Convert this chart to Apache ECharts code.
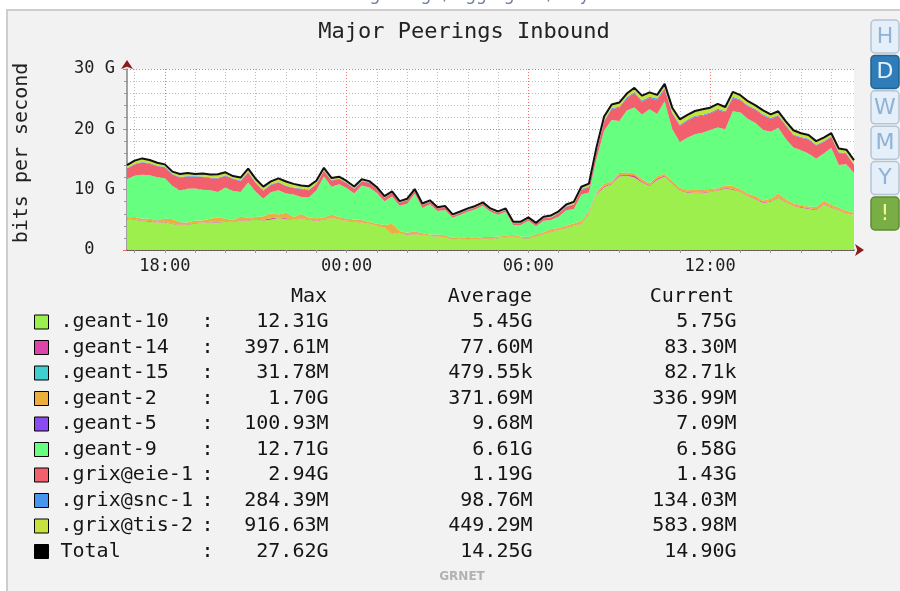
<!DOCTYPE html>
<html><head><meta charset="utf-8">
<script src="https://cdn.jsdelivr.net/npm/echarts@6/dist/echarts.min.js"></script>
<style>html,body{margin:0;padding:0;background:#fff;} #c{width:900px;height:591px;}</style>
</head><body><div id="c"></div>
<script>
// ---- data (values in Gbit/s) ----
const times = [
'16:45','17:00','17:15','17:30','17:45','18:00','18:15','18:30','18:45','19:00',
'19:15','19:30','19:45','20:00','20:15','20:30','20:45','21:00','21:15','21:30',
'21:45','22:00','22:15','22:30','22:45','23:00','23:15','23:30','23:45','00:00',
'00:15','00:30','00:45','01:00','01:15','01:30','01:45','02:00','02:15','02:30',
'02:45','03:00','03:15','03:30','03:45','04:00','04:15','04:30','04:45','05:00',
'05:15','05:30','05:45','06:00','06:15','06:30','06:45','07:00','07:15','07:30',
'07:45','08:00','08:15','08:30','08:45','09:00','09:15','09:30','09:45','10:00',
'10:15','10:30','10:45','11:00','11:15','11:30','11:45','12:00','12:15','12:30',
'12:45','13:00','13:15','13:30','13:45','14:00','14:15','14:30','14:45','15:00',
'15:15','15:30','15:45','16:00','16:15','16:30','16:45'];
const majorTimes = ['18:00','00:00','06:00','12:00'];

const geant10 = [
5.0,5.0,4.8,4.7,4.5,4.6,4.3,4.1,4.2,4.4,
4.5,4.6,4.5,4.7,4.6,4.9,4.8,5.1,4.9,5.0,
5.3,5.1,5.0,5.2,5.0,4.8,5.0,5.3,5.0,4.8,
4.7,4.5,4.3,4.0,3.7,2.6,2.8,2.5,2.6,2.4,
2.3,2.2,2.1,1.8,1.7,1.8,1.7,1.9,1.8,2.0,
2.1,2.2,2.0,1.9,2.2,2.6,3.0,3.3,3.6,4.0,
4.3,6.0,9.2,10.4,10.9,12.2,12.3,12.0,11.2,10.6,
11.6,12.2,11.0,9.8,9.5,9.4,9.4,9.6,9.8,10.2,
10.0,9.6,8.9,8.4,7.8,8.0,8.6,7.9,7.3,7.0,
6.8,6.6,7.6,7.0,6.6,6.0,5.75];
const geant14 = [
0.06,0.08,0.07,0.09,0.06,0.10,0.08,0.07,0.06,0.09,
0.07,0.08,0.12,0.06,0.07,0.09,0.08,0.06,0.10,0.25,
0.08,0.15,0.07,0.06,0.08,0.07,0.09,0.06,0.07,0.05,
0.05,0.06,0.05,0.04,0.05,0.06,0.04,0.05,0.04,0.05,
0.04,0.05,0.04,0.04,0.03,0.04,0.05,0.04,0.03,0.04,
0.04,0.03,0.04,0.05,0.04,0.05,0.06,0.05,0.07,0.08,
0.09,0.10,0.12,0.15,0.14,0.18,0.12,0.40,0.15,0.13,
0.22,0.14,0.12,0.10,0.11,0.09,0.12,0.10,0.11,0.12,
0.10,0.09,0.11,0.12,0.10,0.09,0.14,0.10,0.09,0.11,
0.10,0.12,0.09,0.10,0.08,0.09,0.083];
const geant15 = [
0,0,0,0.001,0,0,0,0,0,0,
0,0,0.001,0,0,0,0,0,0,0,
0,0,0,0,0,0.001,0,0,0,0,
0,0,0,0,0,0,0,0,0,0,
0.03,0,0,0,0,0,0,0,0,0,
0,0,0,0,0,0,0,0,0,0,
0,0,0,0.001,0,0,0,0,0.001,0,
0,0,0,0,0,0,0,0,0,0,
0,0,0,0,0,0,0,0,0,0,
0,0,0,0,0,0,0.0001];
const geant2 = [
0.3,0.4,0.3,0.4,0.3,0.5,0.7,0.4,0.3,0.4,
0.3,0.5,0.8,0.4,0.3,0.5,0.4,0.3,0.6,0.8,
0.5,0.9,0.4,0.7,0.3,0.4,0.3,0.5,0.4,0.3,
0.3,0.4,0.3,0.3,0.4,1.7,0.3,0.3,0.4,0.3,
0.2,0.3,0.3,0.2,0.2,0.3,0.2,0.2,0.3,0.2,
0.2,0.3,0.2,0.2,0.3,0.3,0.4,0.3,0.4,0.3,
0.4,0.3,0.3,0.4,0.3,0.3,0.4,0.3,0.4,0.3,
0.4,0.3,0.3,0.4,0.3,0.5,0.4,0.4,0.3,0.4,
0.5,0.4,0.3,0.4,0.3,0.4,0.6,0.4,0.3,0.4,
0.3,0.4,0.5,0.4,0.3,0.4,0.34];
const geant5 = [
0.01,0.01,0.02,0.01,0.01,0.01,0.02,0.01,0.01,0.01,
0.01,0.02,0.01,0.01,0.01,0.01,0.02,0.01,0.01,0.01,
0.01,0.01,0.01,0.02,0.01,0.01,0.01,0.01,0.01,0.01,
0.01,0.01,0.01,0.01,0.01,0.01,0.01,0.01,0.01,0.01,
0.01,0.01,0.01,0.01,0.01,0.01,0.01,0.01,0.01,0.01,
0.01,0.01,0.01,0.01,0.01,0.01,0.01,0.01,0.01,0.01,
0.01,0.01,0.01,0.02,0.01,0.10,0.01,0.01,0.02,0.01,
0.01,0.01,0.01,0.01,0.01,0.01,0.02,0.01,0.01,0.01,
0.01,0.01,0.01,0.01,0.01,0.02,0.01,0.01,0.01,0.01,
0.01,0.01,0.01,0.01,0.01,0.01,0.007];
const geant9 = [
6.4,6.8,7.3,7.2,7.2,6.7,5.5,5.3,5.6,5.3,
5.1,4.7,4.2,5.2,4.8,4.1,5.9,4.2,2.9,3.5,
4.0,3.2,3.7,2.8,3.3,4.6,6.8,4.6,5.4,5.1,
4.3,5.7,5.7,5.1,3.9,4.5,4.2,4.8,6.3,4.2,
5.0,3.9,4.2,3.3,3.9,4.2,4.8,5.2,4.2,3.6,
4.0,1.6,1.9,2.7,1.4,1.9,1.5,1.9,2.5,2.4,
4.4,3.1,5.5,8.8,10.2,8.6,10.3,10.9,10.7,12.3,
10.3,12.0,8.6,7.6,8.7,9.2,9.5,9.8,10.1,9.3,
12.4,12.7,12.4,12.1,11.7,11.1,10.9,10.0,9.3,9.0,
8.8,8.0,7.8,9.4,7.1,7.7,6.58];
const grixEie1 = [
1.7,1.9,2.0,1.9,1.8,1.8,1.9,2.1,2.0,1.9,
2.1,2.0,2.2,1.9,2.0,1.8,1.7,1.4,1.3,1.2,
1.3,1.2,1.1,1.3,1.2,1.0,0.9,1.0,0.9,0.8,
0.8,0.7,0.8,0.7,0.6,0.6,0.5,0.6,0.5,0.5,
0.4,0.4,0.4,0.3,0.3,0.3,0.3,0.3,0.3,0.3,
0.3,0.3,0.3,0.3,0.3,0.4,0.4,0.5,0.6,0.7,
0.8,0.9,1.2,1.5,1.8,2.2,2.0,2.4,2.1,1.9,
2.3,2.0,2.6,2.7,2.8,2.9,2.8,2.7,2.94,2.8,
2.2,2.0,2.1,2.2,2.4,2.1,2.0,2.2,2.0,2.1,
2.3,2.2,1.9,1.8,2.0,1.7,1.43];
const grixSnc1 = [
0.10,0.12,0.09,0.11,0.10,0.08,0.09,0.12,0.10,0.11,
0.09,0.10,0.12,0.11,0.08,0.10,0.09,0.11,0.10,0.12,
0.09,0.10,0.08,0.11,0.09,0.10,0.12,0.08,0.07,0.08,
0.06,0.07,0.06,0.05,0.06,0.05,0.05,0.04,0.05,0.04,
0.05,0.04,0.04,0.05,0.04,0.05,0.04,0.04,0.05,0.04,
0.05,0.04,0.05,0.04,0.05,0.06,0.05,0.06,0.07,0.08,
0.09,0.10,0.12,0.15,0.18,0.16,0.20,0.17,0.22,0.18,
0.28,0.19,0.16,0.15,0.17,0.14,0.16,0.18,0.15,0.17,
0.20,0.16,0.14,0.15,0.13,0.16,0.14,0.12,0.15,0.13,
0.14,0.12,0.13,0.15,0.12,0.13,0.134];
const grixTis2 = [
0.5,0.5,0.6,0.5,0.5,0.4,0.4,0.5,0.5,0.4,
0.5,0.5,0.6,0.5,0.4,0.5,0.5,0.6,0.6,0.5,
0.6,0.7,0.6,0.5,0.6,0.5,0.4,0.4,0.3,0.3,
0.3,0.3,0.2,0.2,0.2,0.2,0.2,0.2,0.2,0.2,
0.2,0.2,0.2,0.2,0.2,0.2,0.2,0.2,0.2,0.2,
0.2,0.2,0.2,0.2,0.2,0.2,0.3,0.3,0.3,0.4,
0.4,0.5,0.6,0.7,0.6,0.7,0.6,0.7,0.8,0.7,
0.6,0.7,0.8,0.9,0.8,0.8,0.92,0.8,0.8,0.7,
0.8,0.7,0.7,0.6,0.7,0.6,0.6,0.6,0.7,0.6,
0.6,0.6,0.6,0.5,0.6,0.6,0.58];

const seriesNames = ['.geant-10','.geant-14','.geant-15','.geant-2','.geant-5','.geant-9','.grix@eie-1','.grix@snc-1','.grix@tis-2'];
const seriesColors = ['#9cef4c','#dd44aa','#3fcfd0','#ecae3c','#8a4cf0','#66ff80','#f2606e','#4696f0','#c6e23e'];
const legendNames = seriesNames.concat(['Total']);
const statMax = ['12.31G','397.61M','31.78M','1.70G','100.93M','12.71G','2.94G','284.39M','916.63M','27.62G'];
const statAvg = ['5.45G','77.60M','479.55k','371.69M','9.68M','6.61G','1.19G','98.76M','449.29M','14.25G'];
const statCur = ['5.75G','83.30M','82.71k','336.99M','7.09M','6.58G','1.43G','134.03M','583.98M','14.90G'];
const buttonLabels = ['H','D','W','M','Y','!'];

// ---- chart ----
const mono = '"DejaVu Sans Mono", "Liberation Mono", monospace';
const seriesData = [geant10, geant14, geant15, geant2, geant5, geant9, grixEie1, grixSnc1, grixTis2];
const total = times.map((t, i) => seriesData.reduce((s, arr) => s + arr[i], 0));

const series = seriesNames.map((n, k) => ({
  name: n, type: 'line', stack: 'in', data: seriesData[k], color: seriesColors[k],
  symbol: 'none', showSymbol: false, silent: true,
  lineStyle: { width: 0 }, areaStyle: { color: seriesColors[k], opacity: 1 }, z: 2
}));
series.push({
  name: 'Total', type: 'line', data: total, color: '#000', symbol: 'none', showSymbol: false, silent: true,
  lineStyle: { width: 2, color: '#111' }, z: 3
});

const isHour = (i, v) => typeof v === 'string' && v.slice(3) === '00';
const isMajor = (i, v) => majorTimes.indexOf(v) >= 0;

const richBase = { fontFamily: mono, fontSize: 20, lineHeight: 20, color: '#151515' };
const graphics = [
  { type: 'rect', z: -10, silent: true, shape: { x: 7, y: 10, width: 900, height: 600 },
    style: { fill: '#f2f2f2', stroke: '#cdcdcd', lineWidth: 2 } },
  { type: 'text', z: 5, x: 447, y: 4, silent: true,
    style: { text: '© mon.grnet.gr / aggregate / day', fontFamily: '"DejaVu Sans", sans-serif', fontSize: 17,
      fill: '#6f7f9c', align: 'center', textAlign: 'center', verticalAlign: 'bottom', textVerticalAlign: 'bottom' } },
  { type: 'text', z: 5, x: 464, y: 32, silent: true,
    style: { text: 'Major Peerings Inbound', fontFamily: mono, fontSize: 22, fill: '#222',
      align: 'center', textAlign: 'center', verticalAlign: 'middle', textVerticalAlign: 'middle' } },
  { type: 'text', z: 5, x: 22, y: 153, rotation: Math.PI / 2, silent: true,
    style: { text: 'bits per second', fontFamily: mono, fontSize: 20, fill: '#222',
      align: 'center', textAlign: 'center', verticalAlign: 'middle', textVerticalAlign: 'middle' } },
  { type: 'text', z: 5, x: 327, y: 297, silent: true,
    style: { text: 'Max', fontFamily: mono, fontSize: 20, fill: '#151515', align: 'right', textAlign: 'right', verticalAlign: 'middle', textVerticalAlign: 'middle' } },
  { type: 'text', z: 5, x: 532, y: 297, silent: true,
    style: { text: 'Average', fontFamily: mono, fontSize: 20, fill: '#151515', align: 'right', textAlign: 'right', verticalAlign: 'middle', textVerticalAlign: 'middle' } },
  { type: 'text', z: 5, x: 734, y: 297, silent: true,
    style: { text: 'Current', fontFamily: mono, fontSize: 20, fill: '#151515', align: 'right', textAlign: 'right', verticalAlign: 'middle', textVerticalAlign: 'middle' } },
  { type: 'text', z: 5, x: 462, y: 577, silent: true,
    style: { text: 'GRNET', fontFamily: '"DejaVu Sans", sans-serif', fontSize: 12, fontWeight: 'bold', fill: '#b2b2b2',
      align: 'center', textAlign: 'center', verticalAlign: 'middle', textVerticalAlign: 'middle' } }
];
buttonLabels.forEach((b, i) => {
  const active = b === 'D', warn = b === '!';
  graphics.push({
    type: 'group', x: 871, y: 20 + i * 35.4, z: 6, silent: true,
    children: [
      { type: 'rect', shape: { x: 0, y: 0, width: 28, height: 33, r: 4 },
        style: { fill: active ? '#2f7db8' : (warn ? '#79ad45' : '#e5eff9'),
                 stroke: active ? '#22628f' : (warn ? '#5d8c32' : '#b4c4d4'), lineWidth: 1.5 } },
      { type: 'text', x: 14, y: 17,
        style: { text: b, fontFamily: '"DejaVu Sans", sans-serif', fontSize: 22,
                 fill: active ? '#e6f3ff' : (warn ? '#f8f890' : '#8fb2d6'),
                 align: 'center', textAlign: 'center', verticalAlign: 'middle', textVerticalAlign: 'middle' } }
    ]
  });
});

const option = {
  animation: false,
  backgroundColor: '#ffffff',
  grid: { left: 127, right: 46, top: 69, bottom: 341, show: true, backgroundColor: '#ffffff', borderWidth: 0, containLabel: false, outerBoundsMode: 'none' },
  xAxis: [
    { type: 'category', data: times, boundaryGap: false, position: 'bottom',
      axisLine: { show: true, lineStyle: { color: '#3a3a3a', width: 1.5 } },
      axisTick: { show: true, interval: isHour, length: 3, lineStyle: { color: '#999' } },
      axisLabel: { show: true, interval: isMajor, margin: 8, fontFamily: mono, fontSize: 17, color: '#1e1e1e' },
      splitLine: { show: true, interval: isHour, lineStyle: { color: '#bdbdbd', type: [1, 2], width: 1 } } },
    { type: 'category', data: times, boundaryGap: false, position: 'bottom',
      axisLine: { show: true, onZero: false, symbol: ['none', 'arrow'], symbolSize: [9, 9], symbolOffset: [0, 10],
        lineStyle: { color: '#8b1a1a', width: 0 } },
      axisTick: { show: false }, axisLabel: { show: false },
      splitLine: { show: true, interval: isMajor, lineStyle: { color: '#f07070', type: [1, 2], width: 1 } } }
  ],
  yAxis: [
    { type: 'value', min: 0, max: 30, interval: 2, position: 'left',
      axisLine: { show: true, lineStyle: { color: '#858585', width: 1.5 } },
      axisTick: { show: true, length: 3, lineStyle: { color: '#999' } },
      axisLabel: { show: false },
      splitLine: { show: true, lineStyle: { color: '#bdbdbd', type: [1, 2], width: 1 } } },
    { type: 'value', min: 0, max: 30, interval: 10, position: 'left',
      axisLine: { show: true, onZero: false, symbol: ['none', 'arrow'], symbolSize: [9, 9], symbolOffset: [0, 9],
        lineStyle: { color: '#8b1a1a', width: 0 } },
      axisTick: { show: true, length: 4, lineStyle: { color: '#f07070' } },
      axisLabel: { show: true, margin: 12, fontFamily: mono, fontSize: 17, color: '#1e1e1e',
        formatter: v => v === 0 ? '0  ' : v + ' G' },
      splitLine: { show: true, lineStyle: { color: '#f07070', type: [1, 2], width: 1 } } }
  ],
  legend: {
    data: legendNames, orient: 'vertical', left: 34, top: 312, padding: 0, itemGap: 5.5,
    itemWidth: 14, itemHeight: 14, icon: 'rect', selectedMode: false,
    itemStyle: { borderColor: '#000', borderWidth: 1 },
    formatter: name => {
      const k = legendNames.indexOf(name);
      return '{n|' + name + '}{c|:}{m|' + statMax[k] + '}{a|' + statAvg[k] + '}{u|' + statCur[k] + '}';
    },
    textStyle: Object.assign({}, richBase, {
      rich: {
        n: Object.assign({ width: 141, padding: [0, 0, 0, 7], align: 'left' }, richBase),
        c: Object.assign({ width: 12, align: 'center' }, richBase),
        m: Object.assign({ width: 115, align: 'right' }, richBase),
        a: Object.assign({ width: 204, align: 'right' }, richBase),
        u: Object.assign({ width: 204, align: 'right' }, richBase)
      }
    })
  },
  graphic: graphics,
  series: series
};
const chart = echarts.init(document.getElementById('c'), null, { renderer: 'canvas' });
chart.setOption(option);
</script></body></html>
